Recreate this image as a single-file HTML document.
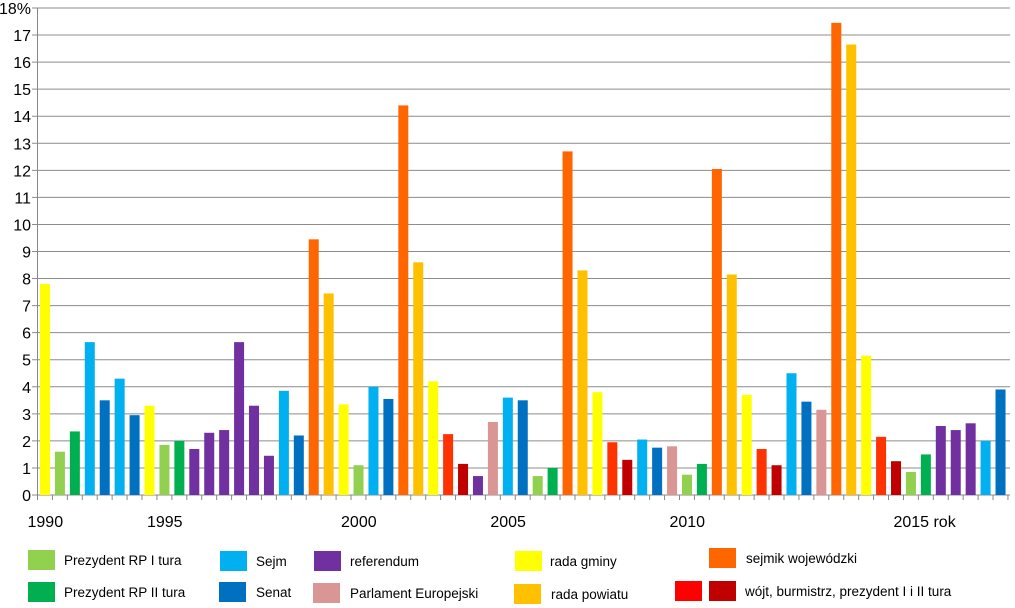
<!DOCTYPE html>
<html><head><meta charset="utf-8">
<style>
body{margin:0;background:#fff;font-family:"Liberation Sans",sans-serif;}
svg{display:block}
</style></head>
<body>
<svg id="chart" width="1015" height="608" xmlns="http://www.w3.org/2000/svg"></svg>
<script>
const seriesKeys=["rg","p1","p2","sejm","sen","sejm","sen","rg","p1","p2","ref","ref","ref","ref","ref","ref","sejm","sen","sw","rp",
"rg","p1","sejm","sen","sw","rp","rg","w1","w2","ref","pe","sejm","sen","p1","p2","sw","rp","rg","w1","w2","sejm","sen","pe",
"p1","p2","sw","rp","rg","w1","w2","sejm","sen","pe","sw","rp","rg","w1","w2","p1","p2","ref","ref","ref","sejm","sen"];
const values=[7.8,1.6,2.35,5.65,3.5,4.3,2.95,3.3,1.85,2.0,1.7,2.3,2.4,5.65,3.3,1.45,3.85,2.2,9.45,7.45,
3.35,1.1,4.0,3.55,14.4,8.6,4.2,2.25,1.15,0.7,2.7,3.6,3.5,0.7,1.0,12.7,8.3,3.8,1.95,1.3,2.05,1.75,1.8,
0.75,1.15,12.05,8.15,3.7,1.7,1.1,4.5,3.45,3.15,17.45,16.65,5.15,2.15,1.25,0.85,1.5,2.55,2.4,2.65,2.0,3.9];
const yTicks=[0,1,2,3,4,5,6,7,8,9,10,11,12,13,14,15,16,17,18];
const yearLabels=["1990","1995","2000","2005","2010","2015 rok"];
const yearSlots=[0,8,21,31,43,58];
const colors={rg:"#FFFF00",p1:"#92D050",p2:"#00B050",sejm:"#00B0F0",sen:"#0070C0",ref:"#7030A0",pe:"#D99694",sw:"#FF6600",rp:"#FFC000",w1:"#FF3300",w2:"#C00000"};
const svg=document.getElementById('chart');
const NS="http://www.w3.org/2000/svg";
const x0=37.5,slot=14.93,y0=495,yTop=8,yMax=18;
const ys=v=>y0-(v/yMax)*(y0-yTop);
const xs=i=>x0+i*slot;
function mk(t,a){const e=document.createElementNS(NS,t);for(const k in a)e.setAttribute(k,a[k]);svg.appendChild(e);return e;}
yTicks.forEach(t=>{
  const g=mk('line',{x1:32,x2:1010,y1:ys(t),y2:ys(t),stroke:t===0?'#888':'#8c8c8c','stroke-width':1});
  
  
  const tx=mk('text',{x:31,y:ys(t)+6,'text-anchor':'end','font-size':16,fill:'#000'});
  tx.textContent=t===18?'18%':String(t);
  
  
});
const ax=mk('line',{x1:x0,x2:x0,y1:yTop,y2:y0,stroke:'#888'});


for(let i=0;i<=values.length;i++){
  const tk=mk('line',{x1:xs(i),x2:xs(i),y1:y0,y2:y0+5,stroke:'#888'});
  
  
}
values.forEach((v,i)=>{
  const r=mk('rect',{x:xs(i)+2.5,y:ys(v),width:10,height:y0-ys(v),fill:colors[seriesKeys[i]]});
  
  
});
yearLabels.forEach((l,k)=>{
  const t=mk('text',{x:xs(yearSlots[k])-10,y:527,'font-size':16,fill:'#000'});
  t.textContent=l;
  
  
});
const legend=[
 ["p1",28,550,64,"Prezydent  RP I tura"],["p2",28,582,64,"Prezydent  RP II tura"],
 ["sejm",220,551,256,"Sejm"],["sen",219,582,256,"Senat"],
 ["ref",314,551,350,"referendum"],["pe",313,583,350,"Parlament  Europejski"],
 ["rg",515,551,550,"rada gminy"],["rp",514,584,551,"rada powiatu"],
 ["sw",709,548,746,"sejmik wojewódzki"],["w2",709,581,745,"wójt, burmistrz,  prezydent  I i II tura"]
];
const lr=mk('rect',{x:675,y:581,width:27,height:20,fill:'#FF0000'});


legend.forEach(([k,sx,sy,tx,lab])=>{
  const r=mk('rect',{x:sx,y:sy,width:27,height:20,fill:colors[k]});
  
  
  const t=mk('text',{x:tx,y:sy+15,'font-size':13.5,fill:'#000'});
  t.textContent=lab;
  
  
});
</script>
</body></html>
